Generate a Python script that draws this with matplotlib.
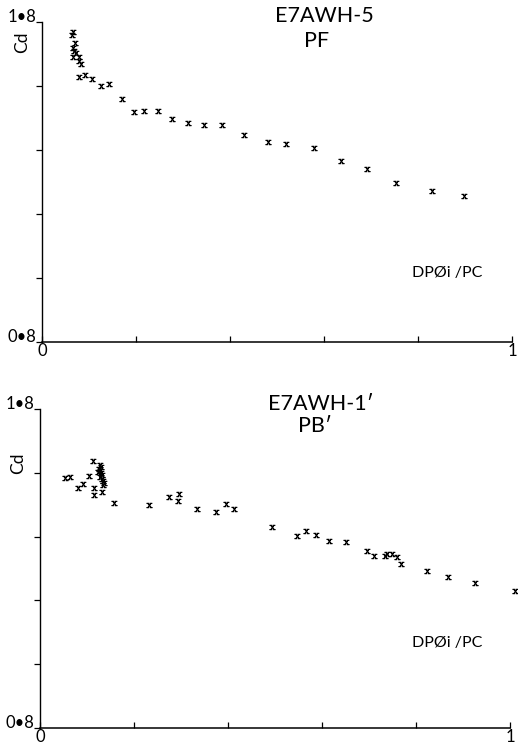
import matplotlib
matplotlib.use("Agg")
import matplotlib.pyplot as plt

plt.rcParams['font.family'] = ['Lato', 'DejaVu Sans']
plt.rcParams['mathtext.fontset'] = 'cm'

# panel 1: E7AWH-5 / PF
x_pf = [0.065, 0.064, 0.071, 0.067, 0.068, 0.072, 0.065, 0.079, 0.078, 0.083,
        0.079, 0.092, 0.106, 0.125, 0.142, 0.170, 0.196, 0.217, 0.247, 0.277,
        0.311, 0.344, 0.382, 0.429, 0.480, 0.519, 0.579, 0.636, 0.691, 0.753,
        0.829, 0.898]
cd_pf = [1.768, 1.759, 1.733, 1.718, 1.710, 1.702, 1.690, 1.690, 1.679, 1.668,
         1.627, 1.634, 1.622, 1.601, 1.606, 1.558, 1.520, 1.522, 1.523, 1.498,
         1.484, 1.478, 1.477, 1.447, 1.426, 1.418, 1.405, 1.367, 1.340, 1.298,
         1.273, 1.256]

# panel 2: E7AWH-1' / PB'
x_pb = [0.054, 0.064, 0.081, 0.091, 0.104, 0.112, 0.114, 0.115, 0.131,
        0.128, 0.130, 0.126, 0.128, 0.130, 0.132, 0.128, 0.132, 0.134, 0.136,
        0.134, 0.123,
        0.158, 0.232, 0.274, 0.296, 0.293, 0.334, 0.375, 0.396, 0.413,
        0.493, 0.546, 0.567, 0.587, 0.616, 0.651, 0.695, 0.711, 0.734, 0.738,
        0.748, 0.759, 0.768, 0.823, 0.869, 0.926, 1.011]
cd_pb = [1.583, 1.588, 1.553, 1.565, 1.590, 1.636, 1.553, 1.530, 1.541,
         1.624, 1.618, 1.612, 1.606, 1.599, 1.593, 1.587, 1.581, 1.574, 1.568,
         1.562, 1.603,
         1.504, 1.498, 1.525, 1.533, 1.511, 1.487, 1.477, 1.502, 1.486,
         1.431, 1.402, 1.418, 1.405, 1.386, 1.382, 1.355, 1.340, 1.340, 1.344,
         1.345, 1.335, 1.313, 1.293, 1.274, 1.256, 1.230]

xticks = [0, 0.2, 0.4, 0.6, 0.8, 1.0]
xticklabels = ['0', '', '', '', '', '1']
yticks = [0.8, 1.0, 1.2, 1.4, 1.6, 1.8]
yticklabels = ['0\u20228', '', '', '', '', '1\u20228']

panels = [
    dict(x=x_pf, y=cd_pf, name="E7AWH-5", sub="PF",
         rect=[0.0811, 0.5416, 0.9073, 0.4290],
         name_pos=(0.60, 1.019), sub_pos=(0.585, 0.941),
         xl_pos=(0.787, 0.217), cd_pos=(-0.042, 0.9375)),
    dict(x=x_pb, y=cd_pb, name="E7AWH-1\u2032", sub="PB\u2032",
         rect=[0.0772, 0.0241, 0.9073, 0.4276],
         name_pos=(0.598, 1.017), sub_pos=(0.586, 0.947),
         xl_pos=(0.791, 0.265), cd_pos=(-0.047, 0.83)),
]

fig = plt.figure(figsize=(5.18, 7.46), dpi=100)
for p in panels:
    ax = fig.add_axes(p["rect"])
    ax.plot(p["x"], p["y"], linestyle='none', marker=r'$\mathrm{x}$',
            markersize=4, color='black', markeredgewidth=0.5, clip_on=False)
    ax.set_xlim(0, 1)
    ax.set_ylim(0.8, 1.8)
    ax.spines['top'].set_visible(False)
    ax.spines['right'].set_visible(False)
    ax.spines['left'].set_linewidth(1.0)
    ax.spines['bottom'].set_linewidth(1.1)
    ax.set_xticks(xticks)
    ax.set_xticklabels(xticklabels, fontsize=12)
    ax.set_yticks(yticks)
    ax.set_yticklabels(yticklabels, fontsize=12)
    ax.tick_params(axis='x', direction='in', length=4, width=0.9, pad=1)
    ax.tick_params(axis='y', direction='out', length=4, width=0.9, pad=0)
    for lab in ax.get_yticklabels():
        lab.set_va('baseline')
    ax.text(*p["name_pos"], p["name"], transform=ax.transAxes,
            ha='center', va='center', fontsize=15.5)
    ax.text(*p["sub_pos"], p["sub"], transform=ax.transAxes,
            ha='center', va='center', fontsize=15.5)
    ax.text(*p["xl_pos"], "DP\u00d8i /PC", transform=ax.transAxes,
            ha='left', va='center', fontsize=11.5)
    ax.text(*p["cd_pos"], "Cd", transform=ax.transAxes, rotation=90,
            ha='center', va='center', fontsize=12.5)

fig.savefig("out.png", dpi=100)
